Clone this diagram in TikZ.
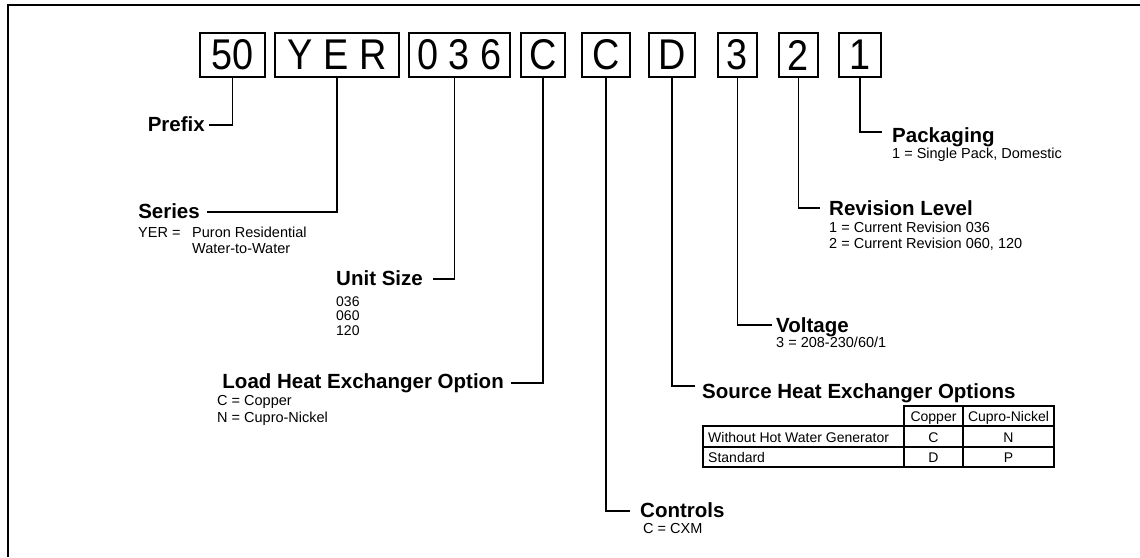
\documentclass[tikz,border=0pt]{standalone}
\usepackage{fontspec}
\setmainfont{Liberation Sans}
\newfontfamily\boxfont[FakeStretch=0.88]{Liberation Sans}
\begin{document}
\begin{tikzpicture}[x=1pt,y=-1pt,
  codebox/.style={draw, line width=1.8pt, inner sep=0pt, minimum height=44pt, font=\boxfont\fontsize{43}{45}\selectfont},
  conn/.style={line width=1.8pt},
  head/.style={font=\bfseries\fontsize{20.5}{24}\selectfont, inner ysep=0pt, text depth=0pt},
  sub/.style={font=\fontsize{14.5}{16.5}\selectfont, inner sep=0pt, anchor=base west},
  cell/.style={font=\fontsize{14}{16}\selectfont, inner sep=0pt, anchor=base},
  tline/.style={line width=1.6pt},
  frameline/.style={line width=2.5pt}
]
\useasboundingbox (0,0) rectangle (1140,557);
\fill[white] (0,0) rectangle (1140,557);
\draw[frameline] (8,557) -- (8,5) -- (1140,5);

% code boxes
\node[codebox, minimum width=65pt]  (b50)  at (232.5,55) {50};
\node[codebox, minimum width=124pt] (bYER) at (337,55) {Y E R};
\node[codebox, minimum width=101pt] (b036) at (459.5,55) {0 3 6};
\node[codebox, minimum width=44pt]  (bC1)  at (543,55) {C};
\node[codebox, minimum width=48pt]  (bC2)  at (606,55) {C};
\node[codebox, minimum width=46pt]  (bD)   at (672,55) {D};
\node[codebox, minimum width=39pt]  (b3)   at (737.5,55) {3};
\node[codebox, minimum width=39pt]  (b2)   at (798.5,55) {2};
\node[codebox, minimum width=42pt]  (b1)   at (860,55) {1};

% headings
\node[head, anchor=east, inner xsep=4pt,  text height=12pt] (prefix)    at (209,125) {Prefix};
\node[head, anchor=east, inner xsep=7pt,  text height=12pt] (series)    at (207,212) {Series};
\node[head, anchor=east, inner xsep=10pt, text height=12pt] (unitsize)  at (433,279) {Unit Size};
\node[head, anchor=east, inner xsep=7pt,  text height=10pt] (load)      at (511,383) {Load Heat Exchanger Option};
\node[head, anchor=west, inner xsep=10pt, text height=12pt] (controls)  at (630,511) {Controls};
\node[head, anchor=west, inner xsep=7pt,  text height=24pt] (source)    at (695,386) {Source Heat Exchanger Options};
\node[head, anchor=west, inner xsep=4pt,  text height=14pt] (voltage)   at (772,325) {Voltage};
\node[head, anchor=west, inner xsep=9pt,  text height=14pt] (revision)  at (820,208) {Revision Level};
\node[head, anchor=west, inner xsep=10pt, text height=20pt] (packaging) at (882,132) {Packaging};

% connectors
\draw[conn] (b50.south) |- (prefix.east);
\draw[conn] (bYER.south) |- (series.east);
\draw[conn] ([xshift=-5pt]b036.south) |- (unitsize.east);
\draw[conn] (bC1.south) |- (load.east);
\draw[conn] (bC2.south) |- (controls.west);
\draw[conn] (bD.south) |- (source.west);
\draw[conn] (b3.south) |- (voltage.west);
\draw[conn] (b2.south) |- (revision.west);
\draw[conn] (b1.south) |- (packaging.west);

% descriptions
\node[sub] (seriesd) at (138,237) {\begin{tabular}[t]{@{}l@{}l@{}}\makebox[54pt][l]{YER =} & Puron Residential\\ & Water-to-Water\end{tabular}};
\node[sub, font=\fontsize{14}{14.5}\selectfont] (unitd) at (336,306) {\begin{tabular}[t]{@{}l@{}}036\\060\\120\end{tabular}};
\node[sub, font=\fontsize{14.5}{17}\selectfont] (loadd) at (217,405) {\begin{tabular}[t]{@{}l@{}}C = Copper\\N = Cupro-Nickel\end{tabular}};
\node[sub] (controlsd) at (643,533) {C = CXM};
\node[sub] (voltaged) at (776,347) {3 = 208-230/60/1};
\node[sub] (revisiond) at (829,232) {\begin{tabular}[t]{@{}l@{}}1 = Current Revision 036\\2 = Current Revision 060, 120\end{tabular}};
\node[sub] (packagingd) at (892,158) {1 = Single Pack, Domestic};

% table
\draw[tline] (703,426) rectangle (1054,467);
\draw[tline] (904,406) rectangle (1054,426);
\draw[tline] (904,406) -- (904,467);
\draw[tline] (963,406) -- (963,467);
\draw[tline] (703,447) -- (1054,447);
\node[cell] (tcu) at (933.5,421) {Copper};
\node[cell] (tcn) at (1008.5,421) {Cupro-Nickel};
\node[cell, anchor=base west] (tr1) at (708,442) {Without Hot Water Generator};
\node[cell] (tr1a) at (933.5,442) {C};
\node[cell] (tr1b) at (1008.5,442) {N};
\node[cell, anchor=base west] (tr2) at (708,462) {Standard};
\node[cell] (tr2a) at (933.5,462) {D};
\node[cell] (tr2b) at (1008.5,462) {P};
\end{tikzpicture}
\end{document}
